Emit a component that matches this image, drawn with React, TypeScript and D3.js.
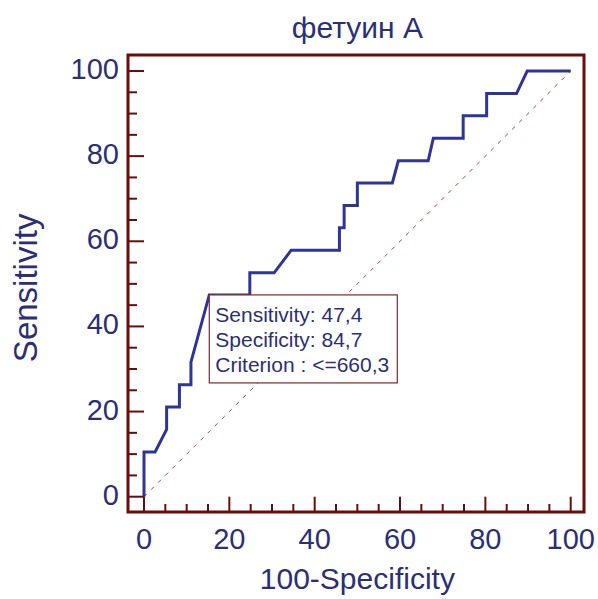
import React from "react";
import * as d3 from "d3";

// ROC curve points (100-Specificity, Sensitivity)
const fpr = [0, 0, 2.6, 5.3, 5.3, 8.3, 8.3, 11, 11, 15.3, 24.8, 24.8, 30.5, 34.5, 45.8, 45.8, 46.9, 46.9, 50, 50, 58.2, 59.6, 66.6, 67.8, 74.8, 74.8, 80.3, 80.3, 87.3, 89.8, 100];
const sens = [0, 10.5, 10.5, 15.8, 21.1, 21.1, 26.3, 26.3, 31.6, 47.4, 47.4, 52.6, 52.6, 57.9, 57.9, 63.2, 63.2, 68.4, 68.4, 73.7, 73.7, 78.9, 78.9, 84.2, 84.2, 89.5, 89.5, 94.7, 94.7, 100, 100];

const majorTicks = [0, 20, 40, 60, 80, 100];
const minorTicks = d3.range(0, 101, 5);

const cutoff = { x: 15.3, y: 47.4 };
const infoLines = ["Sensitivity: 47,4", "Specificity: 84,7", "Criterion : <=660,3"];

const title = "фетуин А";
const xLabel = "100-Specificity";
const yLabel = "Sensitivity";

const W = 598;
const H = 599;
const frame = { left: 128, top: 55, right: 584, bottom: 512 };

const maroon = "#6b0c0c";
const navy = "#2b2f78";
const blue = "#2e3596";
const font = "'Liberation Sans', Arial, sans-serif";

export default function App() {
  const x = d3.scaleLinear().domain([0, 100]).range([144, 570.7]);
  const y = d3.scaleLinear().domain([0, 100]).range([496.7, 71]);

  const line = d3
    .line<number>()
    .x((d, i) => x(fpr[i]))
    .y((d, i) => y(sens[i]));

  const bx = x(cutoff.x);
  const by = y(cutoff.y);

  return (
    <svg
      width={W}
      height={H}
      style={{ position: "absolute", left: 0, top: 0, background: "#fff" }}
    >
      <text x={(x(0) + x(100)) / 2} y={38} textAnchor="middle" fontFamily={font} fontSize={30} fill={navy}>
        {title}
      </text>

      {/* diagonal reference */}
      <line
        x1={x(0)}
        y1={y(0)}
        x2={x(100)}
        y2={y(100)}
        stroke="#c0392b"
        strokeWidth={1}
        strokeDasharray="4,6"
      />

      <path d={line(fpr) || ""} fill="none" stroke={blue} strokeWidth={3} strokeLinejoin="miter" />

      {/* frame */}
      <rect
        x={frame.left}
        y={frame.top}
        width={frame.right - frame.left}
        height={frame.bottom - frame.top}
        fill="none"
        stroke={maroon}
        strokeWidth={3}
      />

      {/* y ticks */}
      {minorTicks.map((t) => (
        <line
          key={"y" + t}
          x1={frame.left}
          x2={majorTicks.includes(t) ? x(0) : frame.left + 9}
          y1={y(t)}
          y2={y(t)}
          stroke={maroon}
          strokeWidth={2}
        />
      ))}
      {/* x ticks */}
      {minorTicks.map((t) => (
        <line
          key={"x" + t}
          x1={x(t)}
          x2={x(t)}
          y1={frame.bottom}
          y2={majorTicks.includes(t) ? y(0) : frame.bottom - 8}
          stroke={maroon}
          strokeWidth={2}
        />
      ))}

      {majorTicks.map((t) => (
        <text key={"yl" + t} x={119} y={y(t) + 8} textAnchor="end" fontFamily={font} fontSize={29} fill={navy}>
          {t}
        </text>
      ))}
      {majorTicks.map((t) => (
        <text key={"xl" + t} x={x(t)} y={549} textAnchor="middle" fontFamily={font} fontSize={29} fill={navy}>
          {t}
        </text>
      ))}

      <text x={(x(0) + x(100)) / 2} y={589} textAnchor="middle" fontFamily={font} fontSize={30} fill={navy}>
        {xLabel}
      </text>
      <text
        transform={`translate(37,${(y(0) + y(100)) / 2 + 4}) rotate(-90)`}
        textAnchor="middle"
        fontFamily={font}
        fontSize={33}
        fill={navy}
      >
        {yLabel}
      </text>

      {/* cutoff info box */}
      <rect x={bx} y={by} width={188} height={88} fill="#fff" stroke="#7b2a2a" strokeWidth={1.2} />
      {infoLines.map((s, i) => (
        <text key={s} x={bx + 6} y={by + 27 + i * 25} fontFamily={font} fontSize={21} fill={navy}>
          {s}
        </text>
      ))}
    </svg>
  );
}
